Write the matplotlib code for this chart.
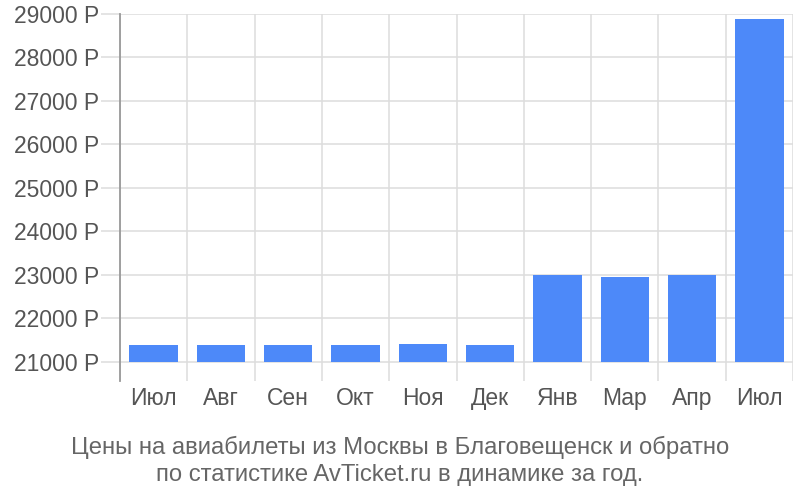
import numpy as np
import matplotlib
matplotlib.use('Agg')
import matplotlib.pyplot as plt

plt.rcParams['font.family'] = ['Liberation Sans', 'DejaVu Sans']

# данные с графика
months = ['Июл', 'Авг', 'Сен', 'Окт', 'Ноя', 'Дек', 'Янв', 'Мар', 'Апр', 'Июл']
prices = [21385, 21385, 21385, 21385, 21410, 21385, 23000, 22960, 23000, 28880]
yticks = [21000, 22000, 23000, 24000, 25000, 26000, 27000, 28000, 29000]
base = 21000
title = ('Цены на авиабилеты из Москвы в Благовещенск и обратно\n'
         'по статистике AvTicket.ru в динамике за год.')

fig = plt.figure(figsize=(8, 5), dpi=100)
ax = fig.add_axes([0.15, 0.238, 0.84125, 0.734])

x = np.arange(len(months))
ax.bar(x, np.array(prices) - base, bottom=base, width=0.72,
       color='#4d89f9', zorder=3)

ax.set_xlim(-0.5, len(months) - 0.5)
ax.set_ylim(20560, 29000)

ax.set_yticks(yticks)
ax.set_yticklabels([f'{v} Р' for v in yticks])
ax.set_xticks(x)
ax.set_xticklabels(months)
ax.set_xticks(np.arange(-0.5, len(months), 1), minor=True)

ax.grid(True, axis='y', color='#dddddd', linewidth=1.1, zorder=0)
ax.grid(True, axis='x', which='minor', color='#dddddd', linewidth=1.1, zorder=0)

ax.tick_params(axis='y', length=14, color='#dddddd', width=1.1,
               labelsize=16.5, labelcolor='#555555', pad=1)
ax.tick_params(axis='x', which='major', length=0, labelsize=16.5,
               labelcolor='#555555', pad=4.5)
ax.tick_params(axis='x', which='minor', length=0)

for s in ['top', 'right', 'bottom']:
    ax.spines[s].set_visible(False)
ax.spines['left'].set_color('#999999')
ax.spines['left'].set_linewidth(1.3)

fig.text(0.5, 0.078, title, ha='center', va='center', fontsize=17.2,
         color='#666666', linespacing=1.25)

fig.savefig('out.png', dpi=100)
